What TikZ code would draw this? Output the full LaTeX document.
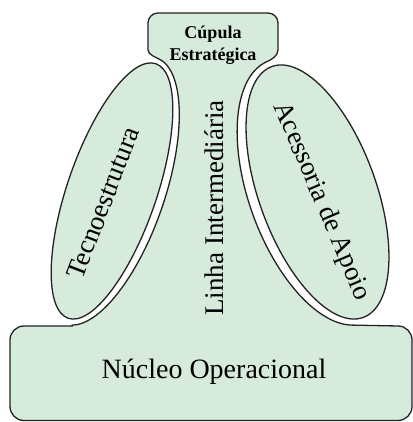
\documentclass[tikz,border=0pt]{standalone}
\usepackage{fontspec}
\setmainfont{Liberation Serif}
\definecolor{shapefill}{RGB}{214,235,220}
\definecolor{shapeline}{RGB}{35,35,35}
\begin{document}
\begin{tikzpicture}[x=1pt,y=1pt,
  orgshape/.style={fill=shapefill, draw=shapeline, line width=1.3pt},
  txt/.style={font=\fontsize{27}{27}\selectfont, inner sep=0pt}]
\useasboundingbox (0,0) rectangle (412,422);
% central body: Cupula + Linha Intermediaria + Nucleo
\path[orgshape]
  (148,372) -- (148,399) arc[start angle=180, end angle=90, radius=10pt]
  -- (268,409) arc[start angle=90, end angle=0, radius=10pt]
  -- (278,372) .. controls (278,366) and (271.2,362.2) .. (266.6,360.2)
  -- plot[domain=92:260, samples=90, smooth] ({316.5+63.43*cos(\x)-47.71*sin(\x)}, {230+23.09*cos(\x)+131.09*sin(\x)})
  -- (398,96) arc[start angle=90, end angle=0, radius=14pt]
  -- (412,15.5) arc[start angle=0, end angle=-90, radius=14pt]
  -- (24,1.5) arc[start angle=270, end angle=180, radius=14pt]
  -- (10,82) arc[start angle=180, end angle=90, radius=14pt]
  -- (72.2,96)
  -- plot[domain=-82.5:85, samples=90, smooth] ({111+50.68*cos(\x)+45.78*sin(\x)}, {231-17.45*cos(\x)+132.94*sin(\x)})
  .. controls (156.8,364.5) and (148,367) .. (148,372) -- cycle;
% side ellipses
\path[orgshape, shift={(112,231)}, rotate=-19] (0,0) ellipse[x radius=44.6pt, y radius=134.6pt];
\path[orgshape, shift={(317.5,230)}, rotate=20] (0,0) ellipse[x radius=58.5pt, y radius=133.5pt];
% texts
\node[inner sep=0pt, align=center, font=\fontsize{18}{22}\selectfont\bfseries] (cupula) at (213,377) {Cúpula\\Estratégica};
\node[txt, rotate=90] (linha) at (214,214) {Linha Intermediária};
\node[txt, font=\fontsize{28}{28}\selectfont] (nucleo) at (214,50) {Núcleo Operacional};
\node[txt, rotate=69] (tecno) at (103,219) {Tecnoestrutura};
\node[txt, rotate=-67] (acess) at (321.5,220.5) {Acessoria de Apoio};
\end{tikzpicture}
\end{document}
